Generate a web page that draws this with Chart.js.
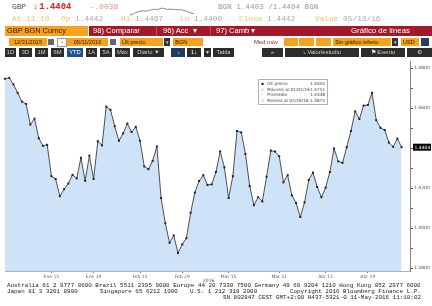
<!DOCTYPE html>
<html>
<head>
<meta charset="utf-8">
<script src="https://cdn.jsdelivr.net/npm/chart.js@4.4.1/dist/chart.umd.min.js"></script>
<style>
body{margin:0;width:432px;height:306px;overflow:hidden;background:#fff;position:relative;font-family:"Liberation Sans",Arial,sans-serif}
.a{position:absolute;white-space:nowrap}
.m{font-family:"Liberation Mono","DejaVu Sans Mono",monospace}
.lb{color:#eec46a}
.vl{color:#a8a8a8}
.ob{position:absolute;background:#f7a21e;color:#2a1a00;font-size:5.6px;line-height:8px;height:8px;top:38px;white-space:nowrap;overflow:hidden}
.dk{position:absolute;background:#2c2c2c;color:#d0d0d0;font-size:5.8px;line-height:9px;height:9px;top:48px;text-align:center;white-space:nowrap}
.ic{position:absolute;background:#666;top:39px;height:6px;width:6px}
.dd{position:absolute;background:#333;color:#ddd;top:38px;height:8px;width:6px;font-size:5px;line-height:8px;text-align:center}
.rb{position:absolute;top:26px;height:10px;line-height:10px;color:#fff;font-size:7.6px;white-space:nowrap}
#legend{position:absolute;left:258px;top:79px;width:68px;height:24px;border:1px solid #b0b0b0;background:#fff;font-family:"DejaVu Sans",sans-serif;font-size:4.3px;color:#444}
#legend div{position:absolute;left:2px;right:2px;height:5px;line-height:5px}
#legend span.v{position:absolute;right:0}
#legend span.k{display:inline-block;width:6px;color:#999}
.ft{position:absolute;font-family:"Liberation Mono","DejaVu Sans Mono",monospace;font-size:5.9px;line-height:6px;color:#222;white-space:pre}
</style>
</head>
<body>
<!-- FILA 1: precio actual -->
<div class="a m" style="left:12px;top:3px;font-size:7.8px;color:#555">GBP</div>
<div class="a m" style="left:33px;top:2px;font-size:8.9px;color:#e0201c;font-weight:bold">↓<span style="margin-left:1px">1.4404</span></div>
<div class="a m" style="left:90px;top:3px;font-size:7.8px;color:#e69090">-.0038</div>
<canvas id="spark" width="64" height="13" style="position:absolute;left:130px;top:3px"></canvas>
<div class="a m" style="left:218px;top:3px;font-size:7.6px;color:#9a9a9a">BGN  1.4403 /1.4404  BGN</div>
<!-- FILA 2 -->
<div class="a m" style="left:12px;top:15px;font-size:7.8px"><span class="lb">At 11:10</span></div>
<div class="a m" style="left:61px;top:15px;font-size:7.8px"><span class="lb">Op</span> <span class="vl">1.4442</span></div>
<div class="a m" style="left:121px;top:15px;font-size:7.8px"><span class="lb">Hi</span> <span class="vl">1.4467</span></div>
<div class="a m" style="left:180px;top:15px;font-size:7.8px"><span class="lb">Lo</span> <span class="vl">1.4400</span></div>
<div class="a m" style="left:239px;top:15px;font-size:7.8px"><span class="lb">Close</span> <span class="vl">1.4442</span></div>
<div class="a m" style="left:315px;top:15px;font-size:7.8px"><span class="lb">Value</span> <span class="vl">05/13/16</span></div>
<!-- FILA 3: barra roja -->
<div class="a" style="left:5px;top:26px;width:83px;height:10px;background:#f7a21e;color:#2a1a00;font-size:7.4px;line-height:10px;padding-left:2px;box-sizing:border-box">GBP BGN Curncy</div>
<div class="a" style="left:89px;top:26px;width:343px;height:10px;background:#a11a2c"></div>
<div class="a" style="left:156px;top:26px;width:1px;height:10px;background:#c24a58"></div>
<div class="a" style="left:210px;top:26px;width:1px;height:10px;background:#c24a58"></div>
<div class="rb" style="left:93px">98) Comparar</div>
<div class="rb" style="left:163px">96) Acc&nbsp;&nbsp;▾</div>
<div class="rb" style="left:216px">97) Camb&nbsp;▾</div>
<div class="rb" style="left:351px;font-size:7.8px">Gráfico de líneas</div>
<!-- FILA 4 -->
<div class="ob" style="left:9px;width:38px;text-align:center">12/31/2015</div>
<div class="ic" style="left:48px"></div>
<div class="a" style="left:57px;top:38px;width:8px;height:7px;border:0.5px solid #999;font-size:6px;line-height:7px;text-align:center">-</div>
<div class="ob" style="left:67px;width:41px;text-align:center">05/11/2016</div>
<div class="ic" style="left:110px"></div>
<div class="ob" style="left:120px;width:43px;padding-left:2px;box-sizing:border-box">Últ precio</div>
<div class="dd" style="left:164px">▾</div>
<div class="ob" style="left:173px;width:30px;padding-left:2px;box-sizing:border-box">BGN</div>
<div class="a" style="left:254px;top:38px;font-size:5.8px;line-height:8px;color:#8a1a1a">Med móv</div>
<div class="ob" style="left:284px;width:14px"></div>
<div class="ob" style="left:299px;width:15px"></div>
<div class="ob" style="left:316px;width:15px"></div>
<div class="ob" style="left:333px;width:58px;padding-left:2px;box-sizing:border-box">Sin gráfico inferio</div>
<div class="dd" style="left:392px">▾</div>
<div class="ob" style="left:401px;width:18px;padding-left:2px;box-sizing:border-box">USD</div>
<div class="dd" style="left:421px;width:8px;background:#2c3e5a"></div>
<!-- FILA 5 -->
<div class="dk" style="left:5px;width:11px">1D</div>
<div class="dk" style="left:19px;width:13px">3D</div>
<div class="dk" style="left:35px;width:13px">1M</div>
<div class="dk" style="left:51px;width:13px">6M</div>
<div class="dk" style="left:67px;width:16px;background:#1d5390;color:#fff">YTD</div>
<div class="dk" style="left:86px;width:11px">1A</div>
<div class="dk" style="left:100px;width:12px">5A</div>
<div class="dk" style="left:115px;width:15px">Máx</div>
<div class="dk" style="left:133px;width:31px">Diario ▼</div>
<div class="dk" style="left:171px;width:14px;background:#1e3a66;color:#9cc4f0">⦣</div>
<div class="dk" style="left:187px;width:14px;color:#fff">1↓</div>
<div class="dk" style="left:204px;width:7px">▾</div>
<div class="dk" style="left:213px;width:21px">Tabla</div>
<div class="dk" style="left:262px;width:21px">«</div>
<div class="dk" style="left:285px;width:74px"><span style="color:#8fb8e8">⦣</span>  Valor/estudio</div>
<div class="dk" style="left:361px;width:44px"><span style="color:#fff">⚑</span>  Evento</div>
<div class="dk" style="left:407px;width:25px">⚙</div>
<!-- GRAFICO -->
<canvas id="chart" width="432" height="225" style="position:absolute;left:0;top:57px"></canvas>
<div class="a" style="left:203px;top:278px;font-family:'DejaVu Sans',sans-serif;font-size:4.5px;color:#555">2016</div>
<div id="legend">
  <div style="top:1px"><span class="k" style="color:#222">▪</span>Últ precio<span class="v">1.4404</span></div>
  <div style="top:6.5px"><span class="k">▫</span>Máximo al 01/01/16<span class="v">1.4751</span></div>
  <div style="top:12px"><span class="k">-</span>Promedio<span class="v">1.4338</span></div>
  <div style="top:17.5px"><span class="k">▫</span>Mínimo al 02/26/16<span class="v">1.3875</span></div>
</div>
<!-- PIE -->
<div class="ft" style="left:7px;top:283px">Australia 61 2 9777 8600 Brazil 5511 2395 9000 Europe 44 20 7330 7500 Germany 49 69 9204 1210 Hong Kong 852 2977 6000</div>
<div class="ft" style="left:7px;top:289px">Japan 81 3 3201 8900</div>
<div class="ft" style="left:100px;top:289px">Singapore 65 6212 1000</div>
<div class="ft" style="left:190px;top:289px">U.S. 1 212 318 2000</div>
<div class="ft" style="left:290px;top:289px">Copyright 2016 Bloomberg Finance L.P.</div>
<div class="ft" style="left:223px;top:295px">SN 802847 CEST GMT+2:00 H437-5321-0 11-May-2016 11:10:02</div>

<script>
// DATOS: cierres diarios GBP BGN (31/12/2015 - 11/05/2016)
const closes = [
  1.4746, 1.4751, 1.4718, 1.4676, 1.4632, 1.4620, 1.4517, 1.4547, 1.4449, 1.4411,
  1.4416, 1.4259, 1.4245, 1.4159, 1.4194, 1.4222, 1.4266, 1.4248, 1.4351, 1.4236,
  1.4362, 1.4245, 1.4434, 1.4413, 1.4607, 1.4591, 1.4509, 1.4436, 1.4473, 1.4522,
  1.4480, 1.4506, 1.4436, 1.4308, 1.4294, 1.4336, 1.4408, 1.4150, 1.4024, 1.3926,
  1.3963, 1.3875, 1.3918, 1.3949, 1.4076, 1.4177, 1.4235, 1.4264, 1.4215, 1.4218,
  1.4280, 1.4383, 1.4303, 1.4150, 1.4259, 1.4485, 1.4478, 1.4370, 1.4210, 1.4114,
  1.4154, 1.4133, 1.4256, 1.4387, 1.4382, 1.4359, 1.4228, 1.4264, 1.4163, 1.4125,
  1.4055, 1.4128, 1.4240, 1.4277, 1.4205, 1.4154, 1.4202, 1.4280, 1.4398, 1.4333,
  1.4326, 1.4404, 1.4485, 1.4583, 1.4545, 1.4612, 1.4615, 1.4676, 1.4539, 1.4501,
  1.4490, 1.4427, 1.4406, 1.4447, 1.4404
];
const tickLabels = ['Ene 15', 'Ene 29', 'Feb 15', 'Feb 29', 'Mar 15', 'Mar 31', 'Abr 15', 'Abr 29'];
const tickDates = ['2016-01-15', '2016-01-29', '2016-02-15', '2016-02-29', '2016-03-15', '2016-03-31', '2016-04-15', '2016-04-29'];
const yTicks = [1.38, 1.39, 1.40, 1.41, 1.42, 1.43, 1.44, 1.45, 1.46, 1.47, 1.48];
// precio intradía (mini gráfico de cabecera)
const sparkValues = [1.4408, 1.4412, 1.4425, 1.4432, 1.4438, 1.4440, 1.4436, 1.4443, 1.4447, 1.4452,
  1.4449, 1.4455, 1.4461, 1.4457, 1.4450, 1.4454, 1.4449, 1.4452, 1.4446, 1.4450, 1.4443, 1.4438,
  1.4430, 1.4424, 1.4418];

// dias habiles (eje de categorias)
const days = [];
for (let d = new Date(Date.UTC(2015, 11, 31)); days.length < closes.length; d.setUTCDate(d.getUTCDate() + 1)) {
  const wd = d.getUTCDay();
  if (wd !== 0 && wd !== 6) days.push(d.toISOString().slice(0, 10));
}
const cats = days.concat(['', '']); // hueco a la derecha
const tickAt = {};
tickDates.forEach((t, i) => { const k = days.indexOf(t); if (k >= 0) tickAt[k] = tickLabels[i]; });

// etiqueta negra del ultimo precio
const lastLabel = {
  id: 'lastLabel',
  afterDraw(chart) {
    const ctx = chart.ctx;
    const v = closes[closes.length - 1];
    const y = chart.scales.y.getPixelForValue(v);
    const x = chart.chartArea.right + 3;
    ctx.save();
    ctx.fillStyle = '#000';
    ctx.fillRect(x, y - 3.5, 18, 7);
    ctx.fillStyle = '#fff';
    ctx.font = '4.5px "DejaVu Sans"';
    ctx.textBaseline = 'middle';
    ctx.fillText(v.toFixed(4), x + 1.5, y + 0.3);
    ctx.restore();
  }
};

new Chart(document.getElementById('chart'), {
  type: 'line',
  data: {
    labels: cats,
    datasets: [{
      data: closes,
      borderColor: '#3c3c3c',
      borderWidth: 0.9,
      backgroundColor: '#cfe3f8',
      fill: 'start',
      pointStyle: 'rect',
      pointRadius: 1.4,
      pointBorderWidth: 0,
      pointBackgroundColor: '#222',
      tension: 0
    }]
  },
  options: {
    responsive: false,
    animation: false,
    layout: { padding: { left: 5, top: 0, right: 0, bottom: 0 } },
    plugins: { legend: { display: false }, tooltip: { enabled: false } },
    scales: {
      x: {
        offset: false,
        grid: { drawOnChartArea: false, tickLength: 2, color: c => tickAt[c.index] ? '#777' : 'rgba(0,0,0,0)' },
        border: { color: '#9a9a9a', width: 0.8 },
        ticks: {
          autoSkip: false, maxRotation: 0, padding: 1, color: '#666',
          font: { size: 4.5, family: 'DejaVu Sans' },
          callback: (v, i) => tickAt[i] || ''
        },
        afterFit: s => { s.height = 11; }
      },
      y: {
        position: 'right',
        min: 1.3785,
        max: 1.4835,
        afterBuildTicks: s => { s.ticks = yTicks.map(v => ({ value: v })); },
        grid: { drawOnChartArea: false, tickLength: 3, color: '#555' },
        border: { color: '#666', width: 0.8 },
        ticks: {
          padding: 1, color: '#555',
          font: { size: 4.5, family: 'DejaVu Sans' },
          callback: v => (Math.round(v * 100) % 2 === 0 ? v.toFixed(4) : '')
        },
        afterFit: s => { s.width = 22; }
      }
    }
  },
  plugins: [lastLabel]
});

new Chart(document.getElementById('spark'), {
  type: 'line',
  data: { labels: sparkValues.map((v, i) => i), datasets: [{ data: sparkValues, borderColor: '#8a8a8a', borderWidth: 1, pointRadius: 0, tension: 0 }] },
  options: {
    responsive: false, animation: false,
    plugins: { legend: { display: false }, tooltip: { enabled: false } },
    scales: { x: { display: false }, y: { display: false } }
  }
});
</script>
</body>
</html>
